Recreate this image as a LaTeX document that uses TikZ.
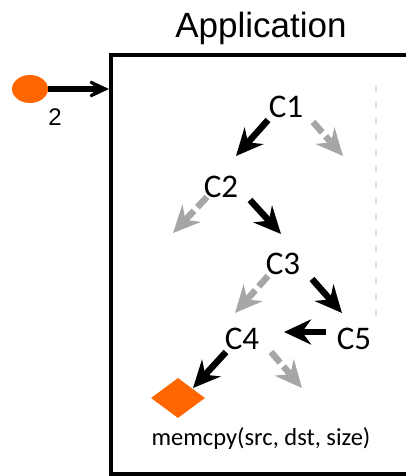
\documentclass[tikz,border=0pt]{standalone}
\usepackage{fontspec}
\setmainfont{Carlito}
\newfontfamily\arialf{Liberation Sans}
\usetikzlibrary{arrows.meta,shapes.geometric}
\definecolor{orng}{HTML}{FF6600}
\definecolor{arrgray}{HTML}{A6A6A6}
\definecolor{lgray}{HTML}{E0E0E0}
\begin{document}
\begin{tikzpicture}[x=1pt,y=-1pt,
  tipC/.tip={Stealth[length=27pt,width=25pt,inset=9pt]},
  blk/.style={line width=6.5pt,-tipC},
  gry/.style={line width=6.5pt,draw=arrgray,dash pattern=on 14pt off 5pt on 40pt,-tipC},
  clbl/.style={font=\fontsize{33}{35}\selectfont, inner sep=0pt},
  frame/.style={line width=4.5pt}]
\useasboundingbox (0,0) rectangle (406,476);
% title
\node[font=\arialf\fontsize{35}{38}\selectfont, inner sep=0pt] (title) at (261,28) {Application};
% application box
\draw[frame] (111,55) rectangle (430,474);
\coordinate (boxin) at (109,89);
% dashed separator
\coordinate (sepT) at (376,85);
\coordinate (sepB) at (376,318);
\draw[lgray, line width=1.5pt, dash pattern=on 7pt off 9pt] (sepT) -- (sepB);
% input
\node[ellipse, fill=orng, minimum width=36pt, minimum height=28pt, inner sep=0pt] (src) at (30,89) {};
\draw[line width=5.5pt,-{Stealth[length=31pt,width=29pt,inset=20pt]}] (src.east) -- (boxin);
\node[font=\arialf\fontsize{24}{26}\selectfont, inner sep=0pt] (two) at (55,117) {2};
% call nodes
\node[clbl] (c1) at (286,107) {C1};
\node[clbl] (c2) at (221,187) {C2};
\node[clbl] (c3) at (283,264) {C3};
\node[clbl] (c4) at (242,339) {C4};
\node[clbl] (c5) at (354,339) {C5};
% free ends
\coordinate (a1s) at (268,120); \coordinate (a1e) at (236,156);
\coordinate (g1s) at (313,122); \coordinate (g1e) at (343,156);
\coordinate (g2s) at (207,197); \coordinate (g2e) at (173,233);
\coordinate (a2s) at (250,200); \coordinate (a2e) at (281,234);
\coordinate (g3s) at (268,276); \coordinate (g3e) at (235,313);
\coordinate (a3s) at (312,279); \coordinate (a3e) at (342,313);
\coordinate (a5s) at (326,332); \coordinate (a5e) at (284,332);
\coordinate (a4s) at (226,352); \coordinate (a4e) at (193,388);
\coordinate (g4s) at (271,352); \coordinate (g4e) at (302,388);
\draw[blk] (a1s) -- (a1e);
\draw[gry] (g1s) -- (g1e);
\draw[gry] (g2s) -- (g2e);
\draw[blk] (a2s) -- (a2e);
\draw[gry] (g3s) -- (g3e);
\draw[blk] (a3s) -- (a3e);
\draw[blk] (a5s) -- (a5e);
\draw[blk] (a4s) -- (a4e);
\draw[gry] (g4s) -- (g4e);
% sink
\node[diamond, fill=orng, minimum width=54pt, minimum height=40pt, inner sep=0pt, aspect=1.35] (sink) at (178,398) {};
\node[font=\fontsize{24.5}{26}\selectfont, inner sep=0pt] (call) at (261,439) {memcpy(src, dst, size)};
\end{tikzpicture}
\end{document}
